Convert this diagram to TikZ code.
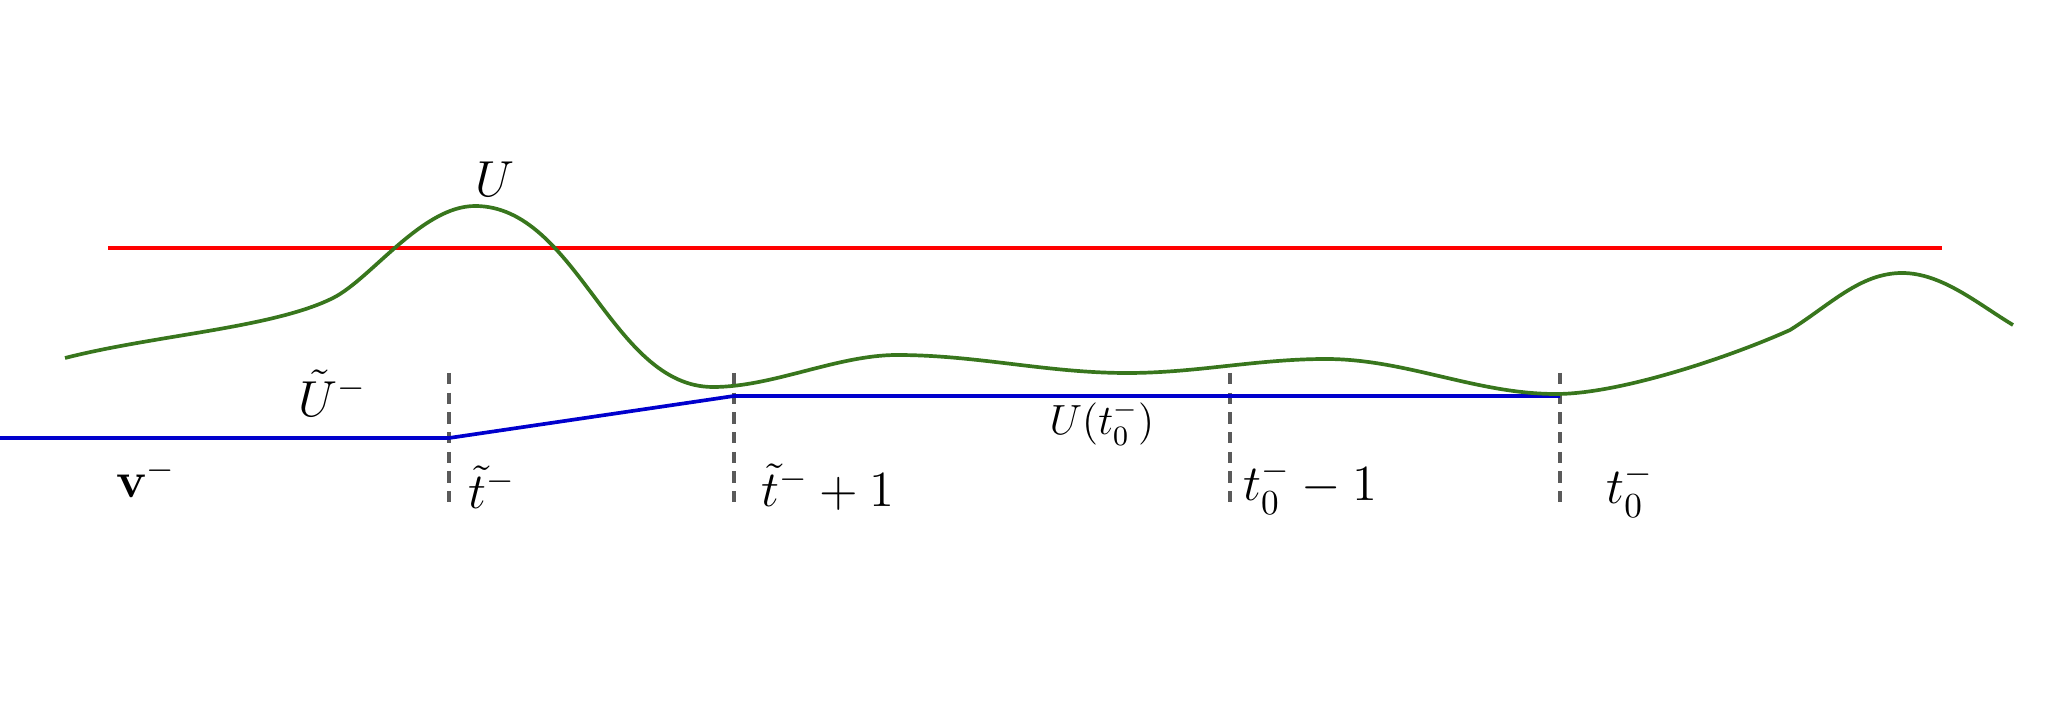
\documentclass[tikz,border=0pt]{standalone}
\usepackage{amsmath}
\definecolor{curvegreen}{RGB}{56,118,29}
\definecolor{pathblue}{RGB}{0,0,205}
\definecolor{markgray}{RGB}{90,90,90}
\begin{document}
\begin{tikzpicture}[x=0.01cm,y=-0.01cm,
  curve/.style={draw=curvegreen,line width=1.05pt},
  level/.style={draw=red,line width=1.05pt},
  path/.style={draw=pathblue,line width=1.05pt},
  mark line/.style={draw=markgray,line width=0.9pt,dash pattern=on 3.2pt off 2.4pt},
  lbl/.style={font=\Large},
  smalllbl/.style={font=\large}]
\useasboundingbox (0,0) rectangle (2052,716);
% red level
\coordinate (r1) at (108,248);
\coordinate (r2) at (1942,248);
\draw[level] (r1) -- (r2);
% dashed markers
\foreach \n/\x in {d1/449,d2/734,d3/1230,d4/1560}{
  \coordinate (\n top) at (\x,373);
  \coordinate (\n bot) at (\x,505);
  \draw[mark line] (\n top) -- (\n bot);
}
% blue path
\coordinate (b0) at (0,438);
\coordinate (b1) at (449,438);
\coordinate (b2) at (734,396);
\coordinate (b3) at (1560,396);
\draw[path] (b0) -- (b1) -- (b2) -- (b3);
% green curve
\coordinate (g0) at (65,358);
\coordinate (g1) at (333,298);
\coordinate (g2) at (475,206);
\coordinate (g3) at (713,387);
\coordinate (g4) at (897,355);
\coordinate (g5) at (1127,373);
\coordinate (g6) at (1326,359);
\coordinate (g7) at (1556,394);
\coordinate (g8) at (1790,330);
\coordinate (g9) at (1902,273);
\coordinate (g10) at (2013,325);
\draw[curve] (g0)
  .. controls (155,335) and (273,328) .. (g1)
  .. controls (371,279) and (422,206) .. (g2)
  .. controls (577,206) and (611,387) .. (g3)
  .. controls (773,387) and (837,355) .. (g4)
  .. controls (977,355) and (1047,373) .. (g5)
  .. controls (1197,373) and (1256,359) .. (g6)
  .. controls (1406,359) and (1476,394) .. (g7)
  .. controls (1620,394) and (1730,357) .. (g8)
  .. controls (1830,305) and (1860,273) .. (g9)
  .. controls (1942,273) and (1978,304) .. (g10);
% labels
\node[lbl] (U) at (495,179) {$U$};
\node[lbl] (Ut) at (333,393) {$\tilde U^-$};
\node[lbl] (v) at (146,478) {$\mathbf{v}^-$};
\node[lbl] (t1) at (492,487) {$\tilde t^-$};
\node[lbl] (t2) at (828,487) {$\tilde t^- + 1$};
\node[smalllbl] (Ut0) at (1102,423) {$U(t_0^-)$};
\node[lbl] (t3) at (1310,487) {$t_0^- - 1$};
\node[lbl] (t4) at (1630,490) {$t_0^-$};
\end{tikzpicture}
\end{document}
